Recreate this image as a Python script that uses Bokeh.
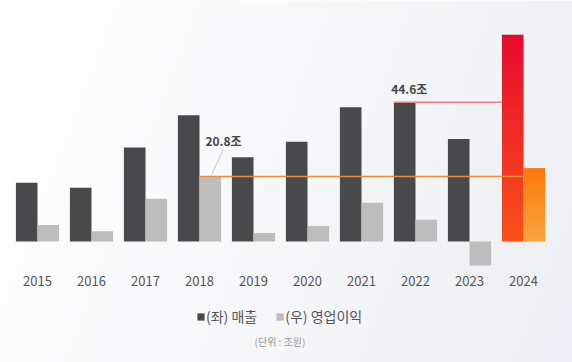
import numpy as np
from bokeh.plotting import figure
from bokeh.models import Range1d, Legend, LegendItem, Label
from bokeh.core.properties import value
from bokeh.embed import file_html
from bokeh.resources import INLINE

# ---- data ----
years = ["2015", "2016", "2017", "2018", "2019", "2020", "2021", "2022", "2023", "2024"]
revenue = [18.8, 17.2, 30.1, 40.4, 27.0, 31.9, 43.0, 44.6, 32.8, 66.2]      # (좌) 매출, 조원
op_profit = [5.3, 3.3, 13.7, 20.8, 2.7, 5.0, 12.4, 7.0, -7.7, 23.5]        # (우) 영업이익, 조원
legend_labels = ["(좌) 매출", "(우) 영업이익"]
unit_label = "(단위 : 조원)"
rev_peak_idx = 7   # 2022 revenue peak before 2024
op_peak_idx = 3    # 2018 operating profit peak before 2024

FONT = "Noto Sans CJK KR"
W, H = 572, 362
PITCH = 54.0
SCALE = 3.124          # px per 조
X0 = 37.0              # px of first group centre
BASE = 241.0           # px of zero line from top

x_start = -X0 / PITCH
x_end = (W - X0) / PITCH
y_end = BASE / SCALE
y_start = -(H - BASE) / SCALE

p = figure(width=W, height=H, output_backend="svg", toolbar_location=None,
           x_range=Range1d(x_start, x_end), y_range=Range1d(y_start, y_end),
           min_border=0, min_border_left=0, min_border_right=0,
           min_border_top=0, min_border_bottom=0)
p.axis.visible = False
p.grid.visible = False
p.outline_line_color = None
p.background_fill_color = "#ffffff"
p.border_fill_color = "#ffffff"


def rgba_image(rgb):
    h, w = rgb.shape[:2]
    img = np.empty((h, w), dtype=np.uint32)
    view = img.view(dtype=np.uint8).reshape((h, w, 4))
    view[..., :3] = np.clip(rgb, 0, 255).astype(np.uint8)
    view[..., 3] = 255
    return img


def hex2rgb(h):
    h = h.lstrip("#")
    return np.array([int(h[k:k + 2], 16) for k in (0, 2, 4)], float)


# ---- background gradient ----
IH, IW = 120, 220
u = np.linspace(0, 1, IW)[None, :]
v = 1 - np.linspace(0, 1, IH)[:, None]      # 0 top, 1 bottom
t = np.clip(0.85 * u + 0.2 * v - 0.05, 0, 1)
c0 = np.array([255, 255, 255], float)
c1 = np.array([236, 239, 243], float)
bg = c0[None, None, :] * (1 - t[..., None]) + c1[None, None, :] * t[..., None]
p.image_rgba(image=[rgba_image(bg)], x=x_start, y=y_start, dw=x_end - x_start, dh=y_end - y_start,
             level="image")

# ---- bars 2015-2023 ----
n = len(years) - 1
idx = list(range(len(years)))
BW = 0.4
dark = p.vbar(x=[i - BW / 2 for i in idx[:n]], top=revenue[:n], bottom=0, width=BW,
              fill_color="#48494b", line_color=None)
light = p.vbar(x=[i + BW / 2 for i in idx[:n]], top=op_profit[:n], bottom=0, width=BW,
               fill_color="#bdbdbd", line_color=None)


def grad_bar(x_left, top, c_top, c_bot, rows=256):
    m = np.linspace(0, 1, rows)[:, None, None]   # row 0 = bottom
    col = hex2rgb(c_bot)[None, None, :] * (1 - m) + hex2rgb(c_top)[None, None, :] * m
    p.image_rgba(image=[rgba_image(col)], x=x_left, y=0, dw=BW, dh=top)


last = idx[-1]
grad_bar(last - BW, revenue[-1], "#e80a2e", "#f9511a")
grad_bar(last, op_profit[-1], "#ff780a", "#f8a842")

# ---- reference lines & callouts ----
p.segment(x0=[rev_peak_idx - BW], x1=[last - BW], y0=[revenue[rev_peak_idx]], y1=[revenue[rev_peak_idx]],
          line_color="#f07a80", line_width=1.5)
p.segment(x0=[op_peak_idx], x1=[last], y0=[op_profit[op_peak_idx]], y1=[op_profit[op_peak_idx]],
          line_color="#f0893c", line_width=1.5)
p.segment(x0=[op_peak_idx + 0.22], x1=[op_peak_idx + 0.44],
          y0=[op_profit[op_peak_idx] + 0.5], y1=[op_profit[op_peak_idx] + 8.6],
          line_color="#c8c8c8", line_width=1)

p.text(x=[rev_peak_idx - 0.45], y=[revenue[rev_peak_idx] + 4.4], text=[f"{revenue[rev_peak_idx]}조"],
       text_font=value(FONT), text_font_size="12px", text_font_style="bold",
       text_color="#444444", text_align="left", text_baseline="middle")
p.text(x=[op_peak_idx + 0.11], y=[op_profit[op_peak_idx] + 11.5], text=[f"{op_profit[op_peak_idx]}조"],
       text_font=value(FONT), text_font_size="12px", text_font_style="bold",
       text_color="#444444", text_align="left", text_baseline="middle")

# ---- year labels ----
p.text(x=idx, y=[-12.8] * len(idx), text=years, text_font=value(FONT), text_font_size="13px",
       text_color="#555555", text_align="center", text_baseline="middle")

# ---- legend ----
legend = Legend(items=[LegendItem(label=legend_labels[0], renderers=[dark]),
                       LegendItem(label=legend_labels[1], renderers=[light])],
                orientation="horizontal", location=(196, 36),
                background_fill_alpha=0, border_line_color=None,
                glyph_width=9, glyph_height=9, label_standoff=1, spacing=18,
                padding=0, margin=0, label_height=16,
                label_text_font=FONT, label_text_font_size="14px", label_text_color="#555555")
p.add_layout(legend)

p.add_layout(Label(x=279.5, y=21, x_units="screen", y_units="screen", text=unit_label,
                   text_font=FONT, text_font_size="10px", text_color="#999999",
                   text_align="center", text_baseline="middle"))

open("out.html", "w").write(file_html(p, INLINE))
